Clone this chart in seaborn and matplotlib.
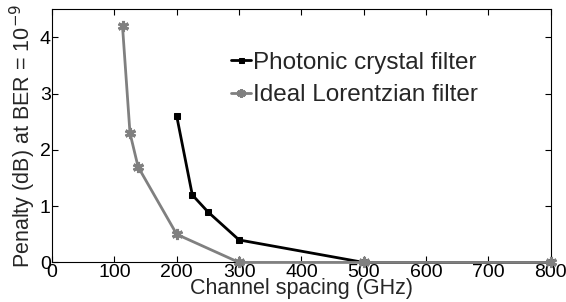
import matplotlib
matplotlib.use("Agg")
import matplotlib.pyplot as plt
import seaborn as sns
import pandas as pd

pc_x = [200, 225, 250, 300, 500, 800]
pc_y = [2.6, 1.2, 0.9, 0.4, 0.0, 0.0]
lor_x = [113, 125, 138, 200, 300, 500, 800]
lor_y = [4.2, 2.3, 1.7, 0.5, 0.0, 0.0, 0.0]
xticks = [0, 100, 200, 300, 400, 500, 600, 700, 800]
yticks = [0, 1, 2, 3, 4]

sns.set_style("white")
plt.rcParams['font.family'] = ['Liberation Sans', 'DejaVu Sans']

fig = plt.figure(figsize=(5.66, 3.02), dpi=100)
ax = fig.add_axes([0.092, 0.131, 0.881, 0.838])

df_pc = pd.DataFrame({"x": pc_x, "y": pc_y})
df_lor = pd.DataFrame({"x": lor_x, "y": lor_y})

sns.lineplot(data=df_pc, x="x", y="y", ax=ax, color="black", lw=2,
             marker="s", markersize=4.5, markeredgecolor="black",
             label="Photonic crystal filter", clip_on=False, zorder=3)
sns.lineplot(data=df_lor, x="x", y="y", ax=ax, color="#808080", lw=2,
             marker=(6, 2, 0), markersize=8, markeredgewidth=2.2,
             markeredgecolor="#808080",
             label="Ideal Lorentzian filter", clip_on=False, zorder=4)

ax.set_xlim(0, 800)
ax.set_ylim(0, 4.5)
ax.set_xticks(xticks)
ax.set_yticks(yticks)
ax.tick_params(direction="in", length=4, width=0.8, labelsize=14,
               top=True, right=True, bottom=True, left=True, pad=1,
               colors="black")
for s in ax.spines.values():
    s.set_color("black")
    s.set_linewidth(0.8)
ax.set_xlabel("Channel spacing (GHz)", fontsize=15.5, labelpad=-2)
ax.set_ylabel("Penalty (dB) at BER = 10$^{-9}$", fontsize=15.5, labelpad=1)

leg = ax.legend(loc="upper left", bbox_to_anchor=(0.34, 0.87), frameon=False,
                fontsize=17.5, handlelength=0.8, handletextpad=0.1,
                borderaxespad=0, labelspacing=0.42, markerscale=0.8)

fig.savefig("out.png", dpi=100)
